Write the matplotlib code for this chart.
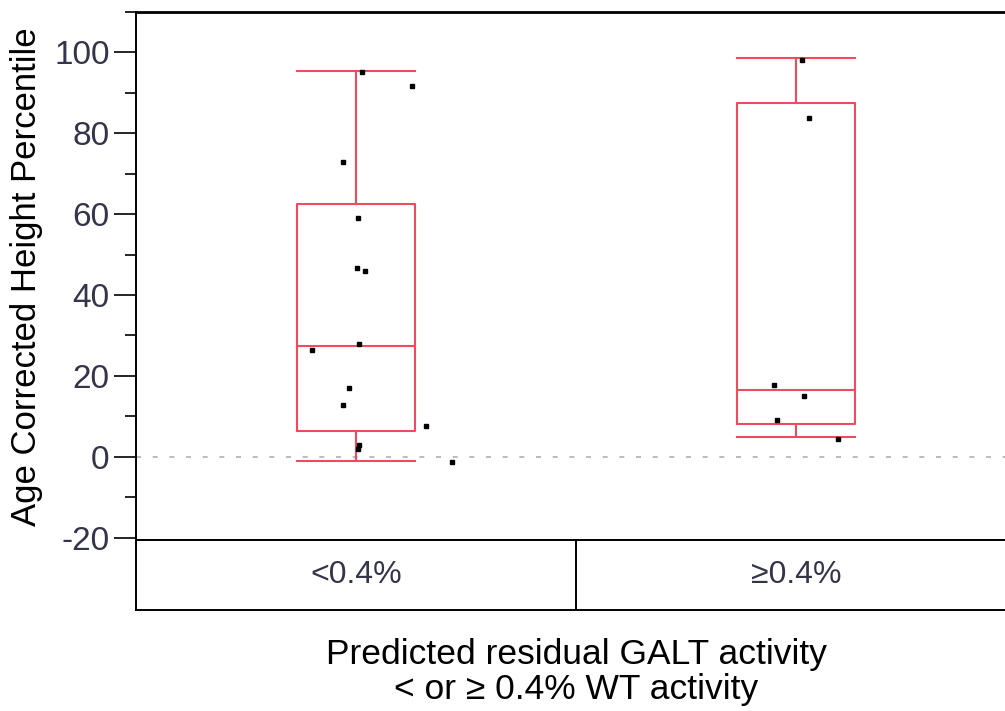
import numpy as np
import matplotlib.pyplot as plt
from matplotlib.ticker import MultipleLocator

plt.rcParams['font.family'] = ['Liberation Sans', 'DejaVu Sans']
plt.rcParams['axes.unicode_minus'] = False

# categorias y valores
groups = ['<0.4%', '≥0.4%']
low_vals = [95.1, 91.6, 72.8, 59.1, 46.7, 45.9, 27.9, 26.5, 17.0, 12.8, 7.7, 2.8, 2.0, -1.2]
low_jit = [0.013, 0.127, -0.029, 0.005, 0.003, 0.020, 0.007, -0.101, -0.015, -0.029, 0.158, 0.007, 0.005, 0.218]
high_vals = [98.2, 83.7, 17.7, 14.9, 9.1, 4.5]
high_jit = [0.013, 0.030, -0.050, 0.018, -0.043, 0.096]

box_q1 = [6.4, 8.2]
box_med = [27.5, 16.6]
box_q3 = [62.6, 87.6]
whisk_lo = [-1.0, 5.0]
whisk_hi = [95.5, 98.5]

red = '#ee4a60'
tick_col = '#34344a'

W, H = 1005, 711
fig = plt.figure(figsize=(W / 100, H / 100), dpi=100)
ax = fig.add_axes([136 / W, (H - 540) / H, 880 / W, 528 / H])

stats = []
for i in range(len(groups)):
    stats.append(dict(med=box_med[i], q1=box_q1[i], q3=box_q3[i],
                      whislo=whisk_lo[i], whishi=whisk_hi[i], fliers=[]))

props = dict(color=red, linewidth=1.5)
ax.bxp(stats, positions=[0, 1], widths=0.266, capwidths=0.266,
       showfliers=False, boxprops=props, whiskerprops=props,
       capprops=props, medianprops=props, zorder=2)

# linea de referencia en 0
ax.axhline(0, color='#b0b0b0', lw=1.2, ls=(0, (3, 7)), zorder=1)

# puntos
ax.plot(np.array(low_jit) + 0, low_vals, 's', color='black', ms=3.2, zorder=3)
ax.plot(np.array(high_jit) + 1, high_vals, 's', color='black', ms=3.2, zorder=3)

ax.set_xlim(-0.5, 1.5)
ax.set_ylim(-20.6, 110)
ax.set_xticks([])
ax.yaxis.set_major_locator(MultipleLocator(20))
ax.yaxis.set_minor_locator(MultipleLocator(10))
ax.set_yticks([-20, 0, 20, 40, 60, 80, 100])
ax.tick_params(axis='y', which='major', length=16, width=1.2, labelsize=24,
               labelcolor=tick_col, pad=3)
ax.tick_params(axis='y', which='minor', length=8, width=1.2)
for s in ['left', 'top', 'bottom']:
    ax.spines[s].set_linewidth(1.4)
ax.spines['top'].set_linewidth(2)
ax.spines['right'].set_visible(False)
ax.set_ylabel('Age Corrected Height Percentile', fontsize=25)
ax.yaxis.set_label_coords(-0.106, 0.498)

# tabla de categorias debajo
tab = fig.add_axes([136 / W, (H - 610) / H, 880 / W, 70 / H])
tab.set_xlim(-0.5, 1.5)
tab.set_ylim(0, 1)
tab.set_xticks([])
tab.set_yticks([])
tab.spines['right'].set_visible(False)
for s in ['left', 'top', 'bottom']:
    tab.spines[s].set_linewidth(1.4)
tab.axvline(0.5, color='black', lw=1.4)
for i, g in enumerate(groups):
    tab.text(i, 0.5, g, ha='center', va='center', fontsize=23, color=tick_col)

fig.text(576 / W, 1 - 672 / H,
         'Predicted residual GALT activity\n< or ≥ 0.4% WT activity',
         ha='center', va='center', fontsize=25.5, linespacing=1.1)

fig.savefig('out.png', dpi=100)
